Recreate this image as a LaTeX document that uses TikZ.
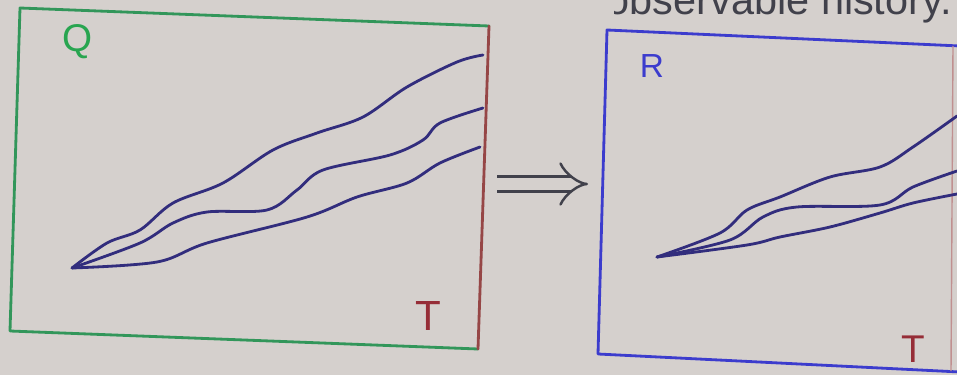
\documentclass[tikz,border=0pt]{standalone}
\usepackage{fontspec}
\setsansfont{Liberation Sans}
\usetikzlibrary{arrows.meta}
\definecolor{boardgrey}{RGB}{213,208,205}
\definecolor{qgreen}{RGB}{50,150,90}
\definecolor{lettergreen}{RGB}{40,165,80}
\definecolor{rblue}{RGB}{60,60,205}
\definecolor{edgered}{RGB}{150,70,70}
\definecolor{tred}{RGB}{150,45,55}
\definecolor{inkblue}{RGB}{50,45,125}
\definecolor{inkgrey}{RGB}{65,65,75}

\begin{document}
\begin{tikzpicture}[x=.02cm,y=-.02cm,
  pen/.style={line width=1.6pt,line cap=round,line join=round},
  walk/.style={pen,draw=inkblue,smooth,tension=.55},
  letter/.style={inner sep=0pt,font=\sffamily\fontsize{22}{22}\selectfont}]
\fill[boardgrey] (0,0) rectangle (957,375);
\useasboundingbox (0,0) rectangle (957,375);

\begin{scope}
\clip (614,0) rectangle (957,40);
\node[anchor=base east,inner sep=0pt,text=inkgrey,font=\sffamily\fontsize{23.6}{24}\selectfont] (hdr) at (952,15) {observable history.};
\end{scope}

\coordinate (qtl) at (20,8);
\coordinate (qtr) at (489,26);
\coordinate (qbr) at (478,349);
\coordinate (qbl) at (10,331);
\draw[pen,draw=qgreen] (qtr) -- (qtl) -- (qbl) -- (qbr);
\draw[pen,draw=edgered] (qtr) -- (qbr);

\coordinate (rtl) at (607,30);
\coordinate (rtr) at (960,46);
\coordinate (rbl) at (598,354);
\coordinate (rbr) at (960,372);
\draw[pen,draw=rblue] (rtr) -- (rtl) -- (rbl) -- (rbr);
\draw[line width=.8pt,draw=edgered!60] (953,46) -- (951,371);

\node[letter,text=lettergreen] (qlab) at (78,42) {Q};
\node[letter,text=tred,font=\sffamily\fontsize{24}{24}\selectfont] (qT) at (428,316) {T};
\node[letter,text=rblue,font=\sffamily\fontsize{19}{19}\selectfont] (rlab) at (652,66) {R};
\node[letter,text=tred,font=\sffamily\fontsize{22}{22}\selectfont] (rT) at (913,349) {T};

\coordinate (impL) at (497,184);
\coordinate (impR) at (588,184);
\draw[line width=1.4pt,draw=inkgrey,double=boardgrey,double distance=.26cm,-{Implies}] (impL) -- (impR);

\draw[walk] plot coordinates {(72,268) (107,243) (140,230) (173,203) (223,183) (273,150) (317,133) (363,117) (407,87) (457,62) (483,55)};
\draw[walk] plot coordinates {(72,268) (140,243) (173,223) (207,212) (267,210) (297,190) (323,170) (390,155) (423,140) (440,123) (483,108)};
\draw[walk] plot coordinates {(72,268) (157,262) (207,243) (307,217) (357,197) (407,183) (440,163) (480,147)};

\draw[walk] plot coordinates {(657,257) (720,233) (747,210) (780,197) (830,177) (880,167) (913,147) (957,116)};
\draw[walk] plot coordinates {(657,257) (730,240) (763,217) (797,207) (880,205) (913,187) (957,171)};
\draw[walk] plot coordinates {(657,257) (747,245) (780,237) (830,227) (880,213) (913,203) (957,194)};
\end{tikzpicture}
\end{document}
